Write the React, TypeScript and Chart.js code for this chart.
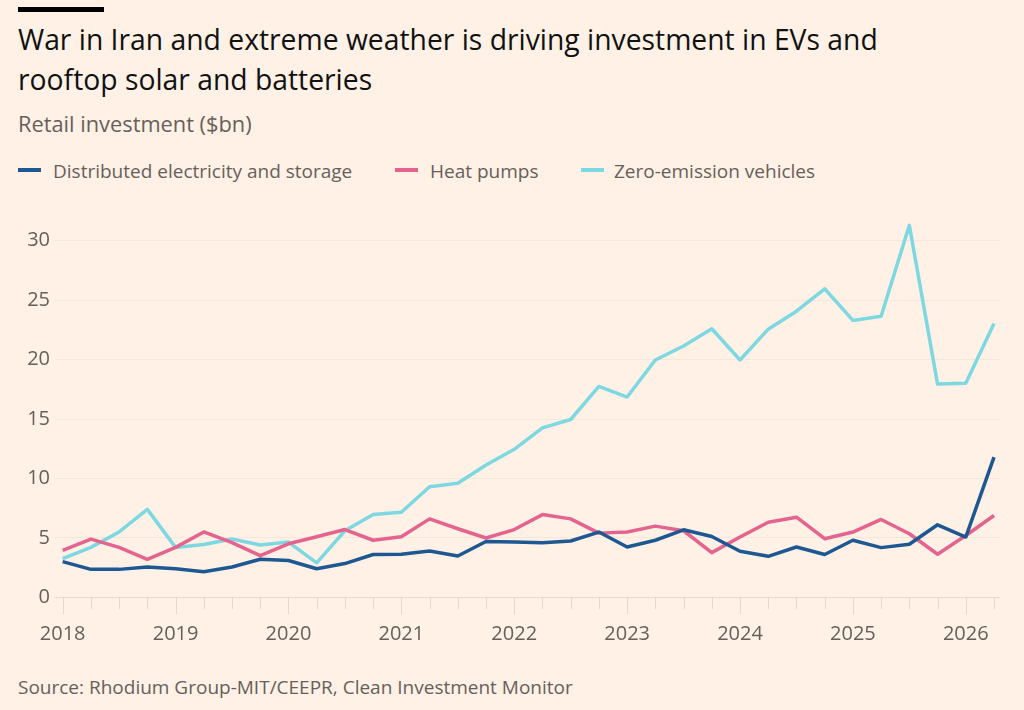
import { useEffect, useRef } from "react";
import { Chart, registerables } from "chart.js";

Chart.register(...registerables);

// ---- Data (quarterly, retail investment $bn) ----
const periods = [
  "2018 Q1", "2018 Q2", "2018 Q3", "2018 Q4",
  "2019 Q1", "2019 Q2", "2019 Q3", "2019 Q4",
  "2020 Q1", "2020 Q2", "2020 Q3", "2020 Q4",
  "2021 Q1", "2021 Q2", "2021 Q3", "2021 Q4",
  "2022 Q1", "2022 Q2", "2022 Q3", "2022 Q4",
  "2023 Q1", "2023 Q2", "2023 Q3", "2023 Q4",
  "2024 Q1", "2024 Q2", "2024 Q3", "2024 Q4",
  "2025 Q1", "2025 Q2", "2025 Q3", "2025 Q4",
  "2026 Q1", "2026 Q2",
];

const distributed = [
  3.0, 2.35, 2.35, 2.55,
  2.4, 2.15, 2.55, 3.2,
  3.1, 2.4, 2.84, 3.6,
  3.62, 3.9, 3.48, 4.7,
  4.65, 4.6, 4.74, 5.49,
  4.23, 4.8, 5.68, 5.12,
  3.87, 3.45, 4.23, 3.6,
  4.8, 4.18, 4.46, 6.1,
  5.07, 11.8,
];

const heatPumps = [
  3.95, 4.9, 4.2, 3.2,
  4.2, 5.5, 4.6, 3.5,
  4.5, 5.1, 5.7, 4.8,
  5.1, 6.6, 5.77, 4.99,
  5.7, 6.96, 6.6, 5.4,
  5.49, 5.99, 5.6, 3.76,
  5.07, 6.32, 6.74, 4.93,
  5.49, 6.55, 5.35, 3.62,
  5.2, 6.88,
];

const zeroEmission = [
  3.26, 4.2, 5.5, 7.4,
  4.2, 4.45, 4.9, 4.4,
  4.65, 2.9, 5.6, 6.96,
  7.16, 9.3, 9.6, 11.14,
  12.45, 14.26, 14.96, 17.74,
  16.85, 19.97, 21.15, 22.6,
  19.97, 22.56, 24.07, 25.96,
  23.3, 23.65, 31.3, 17.94,
  18.02, 23.04,
];

const yTicks = [0, 5, 10, 15, 20, 25, 30];
const yearTicks = [2018, 2019, 2020, 2021, 2022, 2023, 2024, 2025, 2026];

const seriesNames = ["Distributed electricity and storage", "Heat pumps", "Zero-emission vehicles"];
const seriesColors = ["#1d5892", "#e4648f", "#7ed8e1"];

const BG = "#fff1e5";
const FONT = "'Open Sans', sans-serif";

function periodToX(p: string): number {
  const [y, q] = p.split(" Q");
  return Number(y) + (Number(q) - 1) / 4;
}

function toPoints(values: number[]) {
  return values.map((v, i) => ({ x: periodToX(periods[i]), y: v }));
}

const quarterTickPlugin = {
  id: "quarterTicks",
  beforeDatasetsDraw(chart: any) {
    const xs = chart.scales.x;
    const ys = chart.scales.y;
    const ctx = chart.ctx;
    const y0 = ys.getPixelForValue(0);
    ctx.save();
    ctx.strokeStyle = "#e6d8cc";
    ctx.lineWidth = 1;
    periods.forEach((p) => {
      const v = periodToX(p);
      const px = Math.round(xs.getPixelForValue(v)) + 0.5;
      const isYear = Number.isInteger(v);
      ctx.beginPath();
      ctx.moveTo(px, y0);
      ctx.lineTo(px, y0 + (isYear ? 17 : 12));
      ctx.stroke();
    });
    ctx.restore();
  },
};

function LineChart() {
  const ref = useRef<HTMLCanvasElement | null>(null);
  useEffect(() => {
    if (!ref.current) return;
    const values = [distributed, heatPumps, zeroEmission];
    const chart = new Chart(ref.current, {
      type: "line",
      data: {
        datasets: values.map((vals, i) => ({
          label: seriesNames[i],
          data: toPoints(vals),
          borderColor: seriesColors[i],
          backgroundColor: seriesColors[i],
          borderWidth: 3.5,
          pointRadius: 0,
          tension: 0,
          borderJoinStyle: "round" as const,
          fill: false,
        })),
      },
      options: {
        animation: false,
        responsive: false,
        maintainAspectRatio: false,
        layout: { padding: { top: 14.35, right: 24, bottom: 12.7, left: 0 } },
        plugins: {
          legend: { display: false },
          tooltip: { enabled: false },
        },
        scales: {
          x: {
            type: "linear",
            min: 2017.932,
            max: 2026.303,
            afterBuildTicks: (scale: any) => {
              scale.ticks = yearTicks.map((v) => ({ value: v }));
            },
            afterFit: (scale: any) => {
              scale.height = 50;
            },
            grid: { display: false, drawTicks: false },
            border: { display: false },
            ticks: {
              autoSkip: false,
              maxRotation: 0,
              padding: 25,
              color: "#66605c",
              font: { family: FONT, size: 20 },
              callback: (v: any) => String(v),
            },
          },
          y: {
            type: "linear",
            min: 0,
            max: 32,
            afterBuildTicks: (scale: any) => {
              scale.ticks = yTicks.map((v) => ({ value: v }));
            },
            afterFit: (scale: any) => {
              scale.width = 55;
            },
            grid: {
              drawTicks: false,
              color: (c: any) => (c.tick && c.tick.value === 0 ? "#e6d8cc" : "#f6e7db"),
              lineWidth: 1,
            },
            border: { display: false },
            ticks: {
              padding: 5,
              color: "#66605c",
              font: { family: FONT, size: 20 },
            },
          },
        },
      },
      plugins: [quarterTickPlugin],
    });
    return () => chart.destroy();
  }, []);
  return (
    <canvas
      ref={ref}
      width={1024}
      height={460}
      style={{ position: "absolute", left: 0, top: 200, width: 1024, height: 460 }}
    />
  );
}

export default function App() {
  useEffect(() => {
    document.body.style.margin = "0";
    document.body.style.background = BG;
  }, []);
  const legendPos = [
    { sw: 18, tx: 53 },
    { sw: 395, tx: 430 },
    { sw: 581, tx: 614 },
  ];
  return (
    <div
      style={{
        position: "absolute",
        left: 0,
        top: 0,
        width: 1024,
        height: 710,
        background: BG,
        fontFamily: FONT,
        overflow: "hidden",
      }}
    >
      <div style={{ position: "absolute", left: 18, top: 7, width: 86, height: 5, background: "#000" }} />
      <div
        style={{
          position: "absolute",
          left: 18,
          top: 19,
          fontSize: 28.3,
          lineHeight: "40px",
          color: "#111",
          whiteSpace: "nowrap",
        }}
      >
        War in Iran and extreme weather is driving investment in EVs and
        <br />
        rooftop solar and batteries
      </div>
      <div
        style={{
          position: "absolute",
          left: 18,
          top: 111,
          fontSize: 21.8,
          lineHeight: "26px",
          color: "#66605c",
          whiteSpace: "nowrap",
        }}
      >
        Retail investment ($bn)
      </div>
      {seriesNames.map((name, i) => (
        <div key={name}>
          <div
            style={{
              position: "absolute",
              left: legendPos[i].sw,
              top: 168,
              width: 23,
              height: 4,
              background: seriesColors[i],
            }}
          />
          <div
            style={{
              position: "absolute",
              left: legendPos[i].tx,
              top: 159,
              fontSize: 19,
              lineHeight: "24px",
              color: "#66605c",
              whiteSpace: "nowrap",
            }}
          >
            {name}
          </div>
        </div>
      ))}
      <LineChart />
      <div
        style={{
          position: "absolute",
          left: 18,
          top: 675,
          fontSize: 19,
          lineHeight: "24px",
          color: "#66605c",
          whiteSpace: "nowrap",
        }}
      >
        Source: Rhodium Group-MIT/CEEPR, Clean Investment Monitor
      </div>
    </div>
  );
}
